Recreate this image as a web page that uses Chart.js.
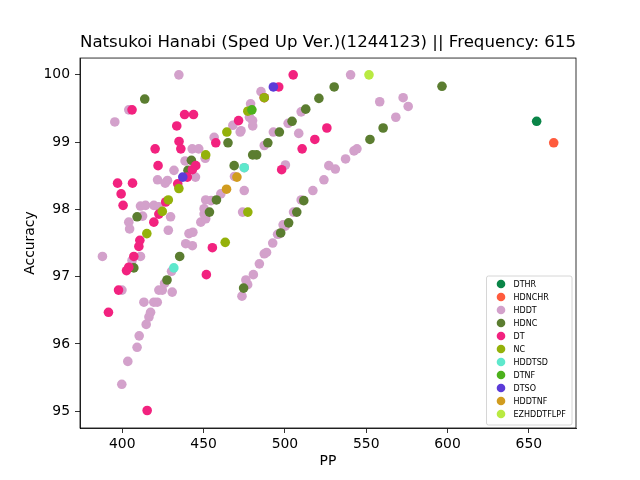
<!DOCTYPE html>
<html>
<head>
<meta charset="utf-8">
<script src="https://cdn.jsdelivr.net/npm/chart.js@4.4.0/dist/chart.umd.min.js"></script>
<style>
  html, body { margin: 0; padding: 0; background: #fff; }
</style>
</head>
<body>
<canvas id="c" width="640" height="480"></canvas>
<script>
// tick values
const xTicks = [400, 450, 500, 550, 600, 650];
const yTicks = [95, 96, 97, 98, 99, 100];

// series (PP, accuracy %)
const dthrPP = [654.8];
const dthrAcc = [99.31];

const hdnchrPP = [665.3];
const hdnchrAcc = [98.99];

const hddtPP = [434.8, 404.0, 395.4, 456.5, 468.0, 472.5, 478.2, 480.2, 478.9, 485.3,
    443.0, 447.0, 438.6, 451.0, 431.8, 445.0, 421.7, 427.8, 426.4, 411.2,
    414.3, 419.4, 422.5, 412.5, 404.0, 404.5, 429.7, 428.3, 441.0, 443.4,
    439.0, 443.1, 448.3, 451.3, 450.3, 450.3, 451.3, 454.6, 460.6, 469.0,
    475.0, 474.0, 475.0, 411.2, 387.8, 406.0, 430.3, 426.0, 399.8, 422.5,
    424.6, 430.7, 413.3, 419.4, 421.5, 417.4, 416.4, 414.7, 410.4, 409.1,
    403.4, 399.7, 487.3, 492.9, 502.0, 508.5, 510.0, 500.3, 540.4, 558.3,
    572.7, 575.8, 568.2, 544.3, 542.5, 537.3, 527.0, 531.0, 524.0, 517.2,
    510.0, 505.3, 500.2, 498.9, 496.9, 495.5, 492.5, 487.3, 488.7, 484.3,
    480.6, 476.0, 477.1, 473.6, 473.0, 480.1];
const hddtAcc = [100.00, 99.48, 99.30, 99.07, 99.25, 99.15, 99.37, 99.24, 99.57, 99.75,
    98.90, 98.90, 98.72, 98.76, 98.58, 98.48, 98.44, 98.43, 98.39, 98.05,
    98.06, 98.06, 98.04, 97.90, 97.81, 97.71, 97.89, 97.69, 97.64, 97.66,
    97.49, 97.46, 97.81, 97.86, 97.93, 98.01, 98.14, 98.13, 98.23, 98.49,
    98.28, 97.96, 98.62, 97.30, 97.30, 97.24, 97.08, 96.90, 96.80, 96.80,
    96.80, 96.77, 96.62, 96.62, 96.62, 96.47, 96.40, 96.29, 96.12, 95.95,
    95.74, 95.40, 98.95, 99.15, 99.28, 99.13, 99.45, 98.66, 100.00, 99.60,
    99.66, 99.53, 99.37, 98.90, 98.87, 98.75, 98.65, 98.60, 98.44, 98.28,
    98.14, 97.96, 97.75, 97.77, 97.64, 97.63, 97.50, 97.34, 97.36, 97.19,
    97.03, 96.95, 96.88, 96.71, 99.17, 99.32];

const hdncPP = [596.6, 530.3, 520.9, 512.8, 504.4, 496.6, 489.5, 482.6, 480.2, 560.4,
    552.3, 413.8, 465.0, 442.5, 440.4, 468.8, 457.9, 453.6, 409.1, 407.1,
    435.3, 427.5, 474.6, 511.6, 507.3, 502.3, 497.4];
const hdncAcc = [99.83, 99.82, 99.65, 99.49, 99.31, 99.15, 98.99, 98.81, 98.81, 99.21,
    99.04, 99.64, 98.99, 98.73, 98.58, 98.65, 98.14, 97.96, 97.89, 97.13,
    97.30, 96.95, 96.83, 98.13, 97.96, 97.80, 97.65];

const dtPP = [505.1, 496.2, 487.3, 406.0, 438.3, 443.8, 433.5, 471.5, 525.8, 518.4,
    510.6, 498.0, 457.5, 434.9, 436.0, 420.2, 422.0, 445.2, 443.1, 440.0,
    434.1, 397.1, 406.3, 399.3, 400.5, 426.7, 422.5, 419.4, 410.8, 410.2,
    407.1, 404.0, 402.6, 455.4, 451.7, 397.7, 391.5, 415.3];
const dtAcc = [100.00, 99.82, 99.66, 99.48, 99.41, 99.41, 99.24, 99.32, 99.21, 99.04,
    98.90, 98.59, 98.99, 99.01, 98.90, 98.90, 98.65, 98.65, 98.59, 98.48,
    98.38, 98.39, 98.39, 98.23, 98.06, 98.11, 97.93, 97.81, 97.54, 97.45,
    97.30, 97.14, 97.09, 97.43, 97.03, 96.80, 96.47, 95.01];

const ncPP = [477.2, 464.3, 451.3, 434.8, 428.3, 424.6, 415.1, 463.3, 477.2, 487.3];
const ncAcc = [99.46, 99.15, 98.81, 98.31, 98.14, 97.97, 97.64, 97.51, 97.96, 99.66];

const hddtsdPP = [475.0, 431.7];
const hddtsdAcc = [98.62, 97.13];

const dtnfPP = [479.7];
const dtnfAcc = [99.48];

const dtsoPP = [492.9, 437.2];
const dtsoAcc = [99.82, 98.48];

const hddtnfPP = [470.5, 464.1];
const hddtnfAcc = [98.48, 98.30];

const ezPP = [551.7];
const ezAcc = [100.00];

const seriesNames = ["DTHR", "HDNCHR", "HDDT", "HDNC", "DT", "NC", "HDDTSD", "DTNF", "DTSO", "HDDTNF", "EZHDDTFLPF"];
const seriesPP = [dthrPP, hdnchrPP, hddtPP, hdncPP, dtPP, ncPP, hddtsdPP, dtnfPP, dtsoPP, hddtnfPP, ezPP];
const seriesAcc = [dthrAcc, hdnchrAcc, hddtAcc, hdncAcc, dtAcc, ncAcc, hddtsdAcc, dtnfAcc, dtsoAcc, hddtnfAcc, ezAcc];
const seriesColors = ["#0a8548", "#ff5b3d", "#d3a1cb", "#5b7d30", "#f2227f", "#94b10a",
    "#5ee8cc", "#4cb11c", "#5b3bd8", "#d19c1f", "#b9ea42"];

const FONT = "'DejaVu Sans', sans-serif";

// later series sit on top, as in the original
const datasets = seriesNames.map((name, i) => ({
    label: name,
    data: seriesPP[i].map((x, j) => ({ x: x, y: seriesAcc[i][j] })),
    backgroundColor: seriesColors[i],
    borderColor: seriesColors[i],
    borderWidth: 0,
    pointRadius: 4.8,
    pointHoverRadius: 4.8,
    order: seriesNames.length - i
}));

// frame round the plot, and the legend box in the lower right corner
const framePlugin = {
    id: "frame",
    afterDatasetsDraw(chart) {
        const { ctx, chartArea: a } = chart;
        ctx.save();
        ctx.strokeStyle = "#000";
        ctx.lineWidth = 0.8;
        ctx.strokeRect(a.left, a.top, a.right - a.left, a.bottom - a.top);
        ctx.restore();
    },
    afterDraw(chart) {
        const { ctx, chartArea: a } = chart;
        const sets = chart.data.datasets;
        const w = 85.5, rowH = 13.0;
        const h = rowH * sets.length + 6;
        const left = a.right - 4 - w;
        const top = a.bottom - 3 - h;
        ctx.save();
        ctx.fillStyle = "rgba(255,255,255,0.8)";
        ctx.strokeStyle = "#cccccc";
        ctx.lineWidth = 0.8;
        ctx.beginPath();
        ctx.roundRect(left, top, w, h, 2);
        ctx.fill();
        ctx.stroke();
        ctx.font = "8px " + FONT;
        ctx.textBaseline = "middle";
        ctx.textAlign = "left";
        sets.forEach((ds, i) => {
            const cy = top + 8 + i * rowH;
            ctx.fillStyle = ds.backgroundColor;
            ctx.beginPath();
            ctx.arc(left + 14.5, cy, 4.3, 0, Math.PI * 2);
            ctx.fill();
            ctx.fillStyle = "#000";
            ctx.fillText(ds.label, left + 27, cy + 0.5);
        });
        ctx.restore();
    }
};

const tickFont = { family: FONT, size: 13.9 };

new Chart(document.getElementById("c"), {
    type: "scatter",
    data: { datasets },
    options: {
        responsive: false,
        animation: false,
        devicePixelRatio: 1,
        layout: { padding: { left: 0, right: 64, top: 0, bottom: 0 } },
        plugins: {
            legend: { display: false },
            tooltip: { enabled: false },
            title: {
                display: true,
                text: "Natsukoi Hanabi (Sped Up Ver.)(1244123) || Frequency: 615",
                color: "#000",
                fullSize: false,
                font: { family: FONT, size: 16.7, weight: "normal" },
                padding: { top: 33, bottom: 5 }
            }
        },
        scales: {
            x: {
                type: "linear",
                min: 374,
                max: 679,
                afterBuildTicks: s => { s.ticks = xTicks.map(v => ({ value: v })); },
                afterFit: s => { s.height = 52; },
                ticks: { color: "#000", font: tickFont, padding: 3, maxRotation: 0, autoSkip: false },
                grid: { display: true, drawOnChartArea: false, drawTicks: true, tickLength: 5, tickColor: "#000", tickWidth: 0.8 },
                border: { display: true, color: "#000", width: 0.8 },
                title: { display: true, text: "PP", color: "#000", font: tickFont, padding: { top: 0, bottom: 10 } }
            },
            y: {
                type: "linear",
                min: 94.75,
                max: 100.25,
                afterBuildTicks: s => { s.ticks = yTicks.map(v => ({ value: v })); },
                afterFit: s => { s.width = 80; },
                ticks: { color: "#000", font: tickFont, padding: 5, autoSkip: false },
                grid: { display: true, drawOnChartArea: false, drawTicks: true, tickLength: 5, tickColor: "#000", tickWidth: 0.8 },
                border: { display: true, color: "#000", width: 0.8 },
                title: { display: true, text: "Accuracy", color: "#000", font: tickFont, padding: { top: 22, bottom: 0 } }
            }
        }
    },
    plugins: [framePlugin]
});
</script>
</body>
</html>
